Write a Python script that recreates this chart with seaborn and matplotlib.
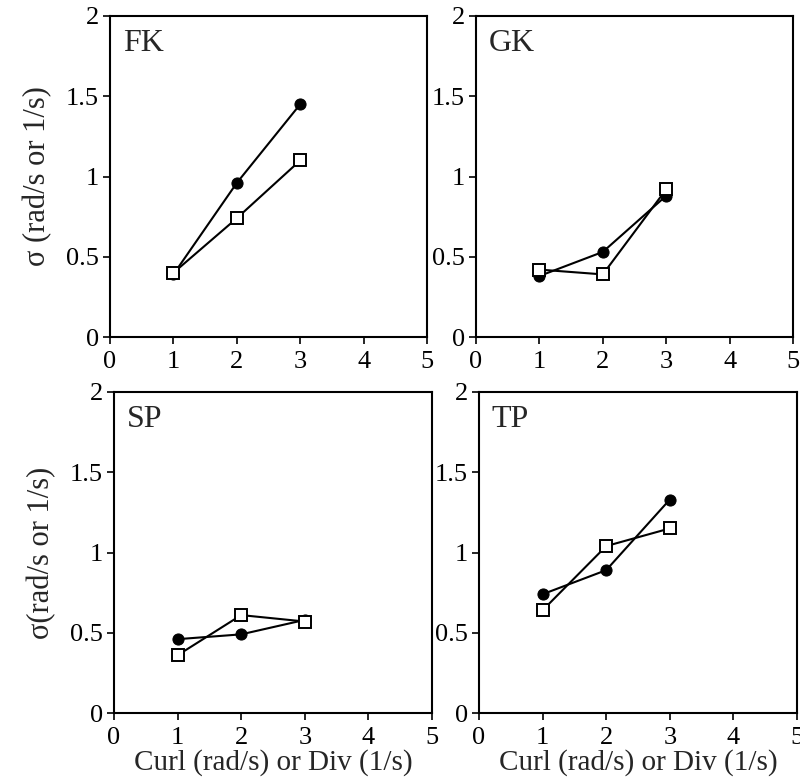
import numpy as np
import pandas as pd
import seaborn as sns
import matplotlib.pyplot as plt

# values
x = [1, 2, 3]
panels = ['FK', 'GK', 'SP', 'TP']
filled = {
    'FK': [0.39, 0.96, 1.45],
    'GK': [0.38, 0.53, 0.88],
    'SP': [0.46, 0.49, 0.58],
    'TP': [0.74, 0.89, 1.33],
}
open_sq = {
    'FK': [0.40, 0.74, 1.10],
    'GK': [0.42, 0.39, 0.92],
    'SP': [0.36, 0.61, 0.57],
    'TP': [0.64, 1.04, 1.15],
}
xticks = [0, 1, 2, 3, 4, 5]
yticks = [0, 0.5, 1, 1.5, 2]
ytick_labels = ['0', '0.5', '1', '1.5', '2']
ylabels = ['σ (rad/s or 1/s)', None, 'σ(rad/s or 1/s)', None]
xlabel = 'Curl (rad/s) or Div (1/s)'

sns.set_style('ticks')
plt.rcParams['font.family'] = ['Liberation Serif', 'DejaVu Serif']
plt.rcParams['font.size'] = 14

fig = plt.figure(figsize=(8, 7.82), dpi=100)
W, H = 800, 782
# axes boxes in pixels: left, top, right, bottom
boxes = [(110, 16, 427, 337), (476, 16, 793, 337),
         (114, 392, 432, 713), (479, 392, 797, 713)]

for i, name in enumerate(panels):
    l, t, r, b = boxes[i]
    ax = fig.add_axes([l / W, 1 - b / H, (r - l) / W, (b - t) / H])
    df = pd.DataFrame({'x': x, 'f': filled[name], 'o': open_sq[name]})
    sns.lineplot(data=df, x='x', y='f', ax=ax, color='black', lw=1.5,
                 marker='o', markersize=8, markerfacecolor='black',
                 markeredgecolor='black')
    sns.lineplot(data=df, x='x', y='o', ax=ax, color='black', lw=1.5,
                 marker='s', markersize=8, markerfacecolor='white',
                 markeredgecolor='black', markeredgewidth=1.4)
    ax.set_xlim(0, 5)
    ax.set_ylim(0, 2)
    ax.set_xticks(xticks)
    ax.set_yticks(yticks)
    ax.set_yticklabels(ytick_labels)
    ax.tick_params(direction='out', length=5, width=1.2, labelsize=19,
                   colors='black')
    ax.tick_params(axis='x', pad=5)
    ax.tick_params(axis='y', pad=3)
    for s in ax.spines.values():
        s.set_visible(True)
        s.set_linewidth(1.5)
        s.set_color('black')
    ax.text(0.04, 0.96, name, transform=ax.transAxes, fontsize=23,
            va='top', ha='left')
    if ylabels[i]:
        ax.set_ylabel(ylabels[i], fontsize=22, labelpad=10)
    else:
        ax.set_ylabel('')
    if i >= 2:
        ax.set_xlabel(xlabel, fontsize=21, labelpad=0)
    else:
        ax.set_xlabel('')

fig.savefig('out.png', dpi=100)
